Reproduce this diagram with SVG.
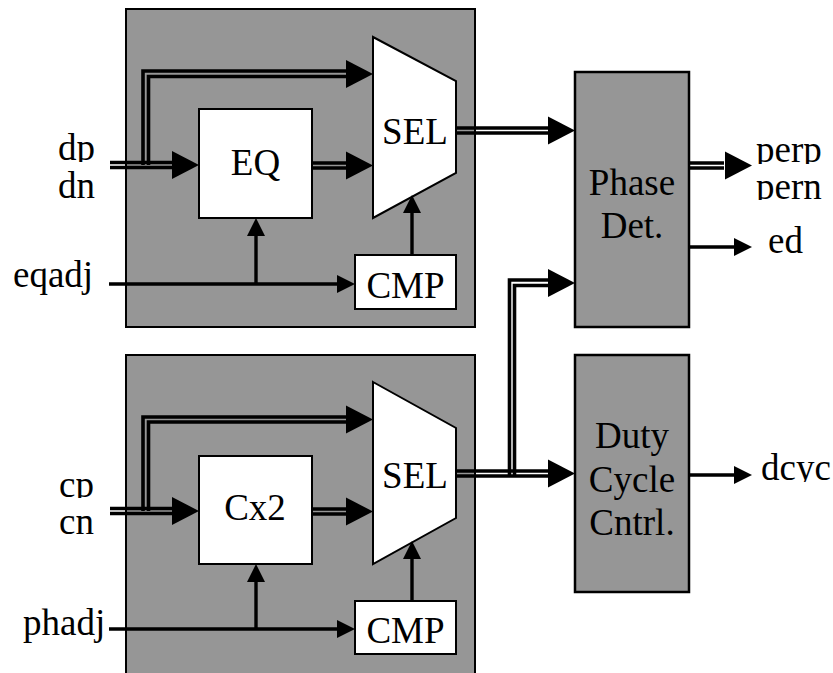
<svg xmlns="http://www.w3.org/2000/svg" xmlns:xlink="http://www.w3.org/1999/xlink" width="833" height="673" viewBox="0 0 833 673">
<style>
.panel{fill:#969696;stroke:#000;stroke-width:2}
.wbox{fill:#fff;stroke:#000;stroke-width:2}
.gbox{fill:#969696;stroke:#000;stroke-width:2.5}
.w2{fill:none;stroke:#000;stroke-width:3.6}
.w1{fill:none;stroke:#000;stroke-width:3.4}
text{font-family:"Liberation Serif","Times New Roman",serif;font-size:37px;fill:#000}
.c{text-anchor:middle}
</style>
<defs>
<polygon id="ah" points="0,0 -27,-14 -27,14" fill="#000"/>
<polygon id="as" points="0,0 -18,-9 -18,9" fill="#000"/>
<clipPath id="cdp"><rect x="0" y="100" width="110" height="62"/></clipPath>
<clipPath id="ccp"><rect x="0" y="450" width="110" height="48"/></clipPath>
<clipPath id="cperp"><rect x="750" y="120" width="83" height="44"/></clipPath>
<clipPath id="cpern"><rect x="750" y="170" width="83" height="30"/></clipPath>
<clipPath id="cdcyc"><rect x="755" y="430" width="78" height="52"/></clipPath>
</defs>
<g id="panel-top"><rect class="panel" x="126" y="9" width="349" height="318"/></g>
<g id="panel-bottom"><rect class="panel" x="126" y="355" width="349" height="330"/></g>
<g id="eq"><rect class="wbox" x="199" y="109" width="113" height="109"/><text class="c" x="255.5" y="175">EQ</text></g>
<g id="sel-top"><polygon class="wbox" points="373,37 456,81 456,173 373,218"/><text class="c" x="415" y="144">SEL</text></g>
<g id="cmp-top"><rect class="wbox" x="355" y="255" width="101" height="54"/><text class="c" x="405.5" y="298">CMP</text></g>
<g id="cx2"><rect class="wbox" x="199" y="456" width="113" height="108"/><text class="c" x="255" y="520">Cx2</text></g>
<g id="sel-bottom"><polygon class="wbox" points="373,382 456,428 456,518 373,564"/><text class="c" x="415" y="488">SEL</text></g>
<g id="cmp-bottom"><rect class="wbox" x="355" y="601" width="101" height="53"/><text class="c" x="405.5" y="643">CMP</text></g>
<g id="phase-det"><rect class="gbox" x="575" y="72" width="114" height="255"/><text class="c" x="632" y="195">Phase</text><text class="c" x="632" y="238">Det.</text></g>
<g id="duty"><rect class="gbox" x="575" y="355" width="114" height="237"/><text class="c" x="632" y="448">Duty</text><text class="c" x="632" y="492">Cycle</text><text class="c" x="632" y="535">Cntrl.</text></g>
<g id="labels">
<text x="58" y="160" clip-path="url(#cdp)">dp</text>
<text x="58" y="198">dn</text>
<text x="13" y="287">eqadj</text>
<text x="59" y="497" clip-path="url(#ccp)">cp</text>
<text x="59" y="534">cn</text>
<text x="23" y="635">phadj</text>
<text x="756" y="162" clip-path="url(#cperp)">perp</text>
<text x="756" y="199" clip-path="url(#cpern)">pern</text>
<text x="768" y="253">ed</text>
<text x="761" y="480" clip-path="url(#cdcyc)">dcyc</text>
</g>
<g id="connectors">
<path class="w2" d="M110,162.5H176M110,167.5H176"/>
<path class="w2" d="M143,165V71H348M148.5,165V76.5H348"/>
<use xlink:href="#ah" x="199" y="165"/>
<use xlink:href="#ah" x="373" y="74"/>
<path class="w2" d="M312,163H348M312,168H348"/>
<use xlink:href="#ah" x="373" y="165.5"/>
<path class="w2" d="M456,128H549M456,133H549"/>
<use xlink:href="#ah" x="575" y="130.5"/>
<path class="w1" d="M109,284H340M256,284V234M412,255V210"/>
<use xlink:href="#as" x="355" y="284"/>
<use xlink:href="#as" transform="translate(256,218) rotate(-90)"/>
<use xlink:href="#as" transform="translate(412,195) rotate(-90)"/>
<path class="w2" d="M110,508.5H176M110,513.5H176"/>
<path class="w2" d="M143,511V417H348M148.5,511V422H348"/>
<use xlink:href="#ah" x="199" y="511"/>
<use xlink:href="#ah" x="373" y="419.5"/>
<path class="w2" d="M312,509H348M312,514H348"/>
<use xlink:href="#ah" x="373" y="511.5"/>
<path class="w2" d="M456,471H549M456,476H549"/>
<use xlink:href="#ah" x="575" y="473.5"/>
<path class="w2" d="M509.5,476V280H549M514.5,476V285.5H549"/>
<use xlink:href="#ah" x="575" y="283"/>
<path class="w1" d="M109,629H340M256,629V580M412,601V556"/>
<use xlink:href="#as" x="355" y="629"/>
<use xlink:href="#as" transform="translate(256,564) rotate(-90)"/>
<use xlink:href="#as" transform="translate(412,541) rotate(-90)"/>
<path class="w2" d="M689,163H724M689,168H724"/>
<use xlink:href="#ah" x="752" y="165.5"/>
<path class="w1" d="M689,247H735M689,475H735"/>
<use xlink:href="#as" x="752" y="247"/>
<use xlink:href="#as" x="752" y="475"/>
</g>
</svg>
